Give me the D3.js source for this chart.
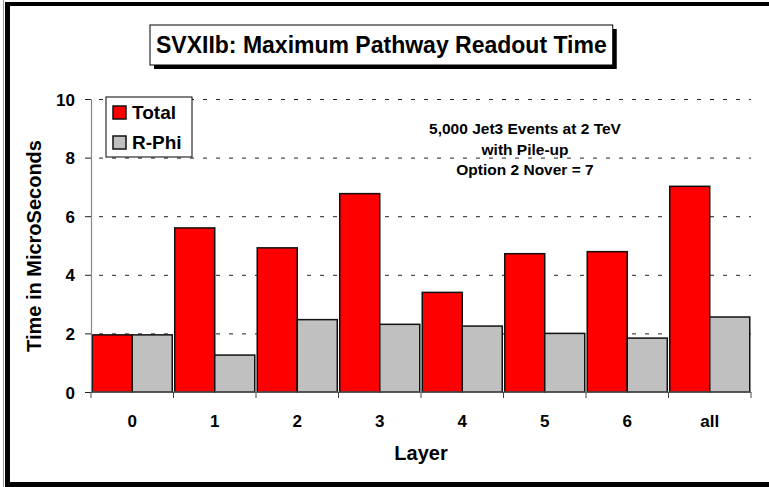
<!DOCTYPE html>
<html>
<head>
<meta charset="utf-8">
<script src="https://cdn.jsdelivr.net/npm/d3@7"></script>
<style>
  body { margin: 0; background: #fff; }
  text { font-family: 'Liberation Sans', Arial, sans-serif; font-weight: bold; fill: #000; }
</style>
</head>
<body>
<div id="chart"></div>
<script>
'use strict'

var layers = ['0', '1', '2', '3', '4', '5', '6', 'all']
var series = ['Total', 'R-Phi']
var totalTimes = [1.95, 5.6, 4.92, 6.77, 3.4, 4.72, 4.79, 7.02]
var rphiTimes = [1.95, 1.26, 2.47, 2.31, 2.25, 2.0, 1.84, 2.56]
var yTicks = [0, 2, 4, 6, 8, 10]
var noteLines = ['5,000 Jet3 Events at 2 TeV', 'with Pile-up', 'Option 2 Nover = 7']
var colors = { 'Total': '#ff0000', 'R-Phi': '#c0c0c0' }

var W = 769, H = 487
var margin = { top: 99, right: 18, bottom: 95, left: 91 }
var width = W - margin.left - margin.right
var height = H - margin.top - margin.bottom

var svg = d3.select('#chart').append('svg')
  .attr('width', W)
  .attr('height', H)

// outer frame (left, top and bottom only)
svg.append('line').attr('x1', 3.5).attr('x2', 3.5).attr('y1', 0).attr('y2', H)
  .attr('stroke', '#999').attr('stroke-width', 1)
svg.append('line').attr('x1', 7.5).attr('x2', 7.5).attr('y1', 2).attr('y2', H)
  .attr('stroke', '#000').attr('stroke-width', 5)
svg.append('line').attr('x1', 5).attr('x2', W).attr('y1', 4).attr('y2', 4)
  .attr('stroke', '#000').attr('stroke-width', 4)
svg.append('line').attr('x1', 5).attr('x2', W).attr('y1', 484.5).attr('y2', 484.5)
  .attr('stroke', '#000').attr('stroke-width', 5)

var g = svg.append('g')
  .attr('transform', 'translate(' + margin.left + ',' + margin.top + ')')

var x0 = d3.scaleBand().domain(layers).range([0, width]).paddingInner(0.03).paddingOuter(0.015)
var x1 = d3.scaleBand().domain(series).range([0, x0.bandwidth()])
var y = d3.scaleLinear().domain([0, 10]).range([height, 0])

// dashed gridlines
g.append('g')
  .attr('class', 'grid')
  .call(d3.axisLeft(y).tickValues(yTicks.slice(1)).tickSize(-width).tickFormat(''))
  .call(function(s) { s.select('.domain').remove() })
  .selectAll('line')
  .attr('stroke', '#222')
  .attr('stroke-dasharray', '4,9')
  .attr('stroke-dashoffset', -8)

// bars
var data = layers.map(function(l, i) {
  return { layer: l, values: [
    { key: 'Total', v: totalTimes[i] },
    { key: 'R-Phi', v: rphiTimes[i] }
  ] }
})

var grp = g.selectAll('.layer')
  .data(data)
  .enter()
  .append('g')
  .attr('class', 'layer')
  .attr('transform', function(d) { return 'translate(' + x0(d.layer) + ',0)' })

grp.selectAll('rect')
  .data(function(d) { return d.values })
  .enter()
  .append('rect')
  .attr('x', function(d) { return x1(d.key) })
  .attr('y', function(d) { return y(d.v) })
  .attr('width', x1.bandwidth())
  .attr('height', function(d) { return height - y(d.v) })
  .attr('fill', function(d) { return colors[d.key] })
  .attr('stroke', '#111')
  .attr('stroke-width', 1.5)

// y axis
var yAxis = g.append('g')
  .call(d3.axisLeft(y).tickValues(yTicks).tickSize(6).tickPadding(10).tickSizeOuter(0))
yAxis.select('.domain').attr('stroke', '#888').attr('stroke-width', 1.2)
yAxis.selectAll('.tick line').attr('stroke', '#222')
yAxis.selectAll('text')
  .attr('font-size', '17px')
  .attr('font-weight', 'bold')
  .attr('font-family', "'Liberation Sans', Arial, sans-serif")
  .attr('fill', '#000')
  .attr('dy', '0.36em')

// x axis with ticks on category boundaries
var step = x0.step()
var bounds = layers.map(function(l) { return x0(l) - step * x0.paddingInner() / 2 })
bounds.push(width)
var xAxis = g.append('g').attr('transform', 'translate(0,' + height + ')')
xAxis.append('line').attr('x1', 0).attr('x2', width)
  .attr('stroke', '#666').attr('stroke-width', 1.2)
xAxis.selectAll('.xtick')
  .data(bounds)
  .enter()
  .append('line')
  .attr('x1', function(d) { return d }).attr('x2', function(d) { return d })
  .attr('y1', 0).attr('y2', 6)
  .attr('stroke', '#444')
xAxis.selectAll('.xlabel')
  .data(layers)
  .enter()
  .append('text')
  .attr('x', function(d) { return x0(d) + x0.bandwidth() / 2 })
  .attr('y', 35)
  .attr('text-anchor', 'middle')
  .attr('font-size', '17px')
  .text(function(d) { return d })

// axis titles
svg.append('text')
  .attr('x', margin.left + width / 2)
  .attr('y', 460)
  .attr('text-anchor', 'middle')
  .attr('font-size', '20px')
  .text('Layer')

svg.append('text')
  .attr('transform', 'translate(41,246) rotate(-90)')
  .attr('text-anchor', 'middle')
  .attr('font-size', '20px')
  .text('Time in MicroSeconds')

// title box with shadow
var title = svg.append('g')
var tt = title.append('text')
  .attr('x', 0).attr('y', 0)
  .attr('font-size', '23px')
  .text('SVXIIb: Maximum Pathway Readout Time')
var tw = tt.node().getComputedTextLength()
var bx = 150, by = 25, bw = tw + 12, bh = 40
title.insert('rect', 'text')
  .attr('x', bx + 4).attr('y', by + 4).attr('width', bw).attr('height', bh)
  .attr('fill', '#000')
title.insert('rect', 'text')
  .attr('x', bx).attr('y', by).attr('width', bw).attr('height', bh)
  .attr('fill', '#fff').attr('stroke', '#000').attr('stroke-width', 1)
tt.attr('x', bx + 6).attr('y', by + 28)

// legend
var legend = svg.append('g').attr('transform', 'translate(106,97)')
legend.append('rect')
  .attr('width', 86).attr('height', 60)
  .attr('fill', '#fff').attr('stroke', '#000').attr('stroke-width', 1)
var li = legend.selectAll('.li')
  .data(series)
  .enter()
  .append('g')
  .attr('transform', function(d, i) { return 'translate(7,' + (9 + i * 30) + ')' })
li.append('rect')
  .attr('width', 13).attr('height', 13)
  .attr('fill', function(d) { return colors[d] })
  .attr('stroke', '#111').attr('stroke-width', 1.5)
li.append('text')
  .attr('x', 19).attr('y', 13)
  .attr('font-size', '19px')
  .text(function(d) { return d })

// note
svg.append('g').selectAll('text')
  .data(noteLines)
  .enter()
  .append('text')
  .attr('x', 525)
  .attr('y', function(d, i) { return 134 + i * 20.5 })
  .attr('text-anchor', 'middle')
  .attr('font-size', '15.5px')
  .text(function(d) { return d })
</script>
</body>
</html>
